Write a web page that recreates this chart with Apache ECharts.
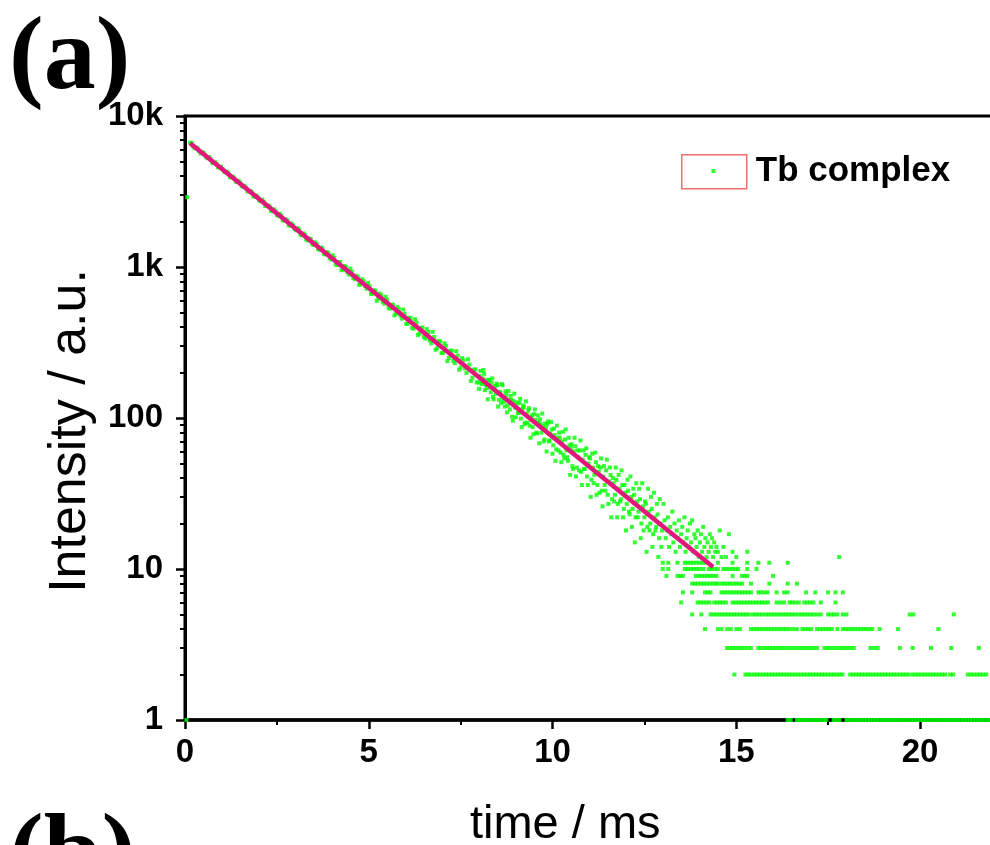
<!DOCTYPE html>
<html>
<head>
<meta charset="utf-8">
<script src="https://cdn.jsdelivr.net/npm/echarts@6/dist/echarts.min.js"></script>
<style>
html,body{margin:0;padding:0;background:#fff;}
#chart{width:990px;height:845px;}
</style>
</head>
<body>
<div id="chart"></div>
<script>
// ---------- data ----------
const xMajorTicks = [0, 5, 10, 15, 20];
const xMinorTicks = [2.5, 7.5, 12.5, 17.5];
const yMajorTicks = [1, 10, 100, 1000, 10000];
const yTickLabels = ['1', '10', '100', '1k', '10k'];
const yMinorTicks = [2,3,4,5,6,7,8,9,20,30,40,50,60,70,80,90,200,300,400,500,600,700,800,900,2000,3000,4000,5000,6000,7000,8000,9000];

// early, well-resolved part of the decay: [time ms, counts]
const decayHead = [
[0.04,1],[0.06,2900],
[0.14,6650],[0.22,6300],[0.30,6190],[0.38,5870],[0.46,5760],[0.54,5540],[0.62,5250],[0.70,5160],[0.78,4890],[0.86,4820],
[0.94,4560],[1.02,4470],[1.10,4230],[1.18,4180],[1.26,3930],[1.34,3870],[1.42,3650],[1.50,3610],[1.58,3400],[1.66,3350],
[1.74,3160],[1.82,3120],[1.90,2930],[1.98,2900],[2.06,2720],[2.14,2710],[2.22,2530],[2.30,2520],[2.38,2340],[2.46,2350],
[2.54,2180],[2.62,2190],[2.70,2030],[2.78,2040],[2.86,1880],[2.94,1890],[3.02,1750],[3.10,1770],[3.18,1620],[3.26,1640],
[3.34,1500],[3.42,1530],[3.50,1400],[3.58,1420],[3.66,1300],[3.74,1330],[3.82,1210],[3.90,1240],[3.98,1120],[4.06,1150],
[4.14,1030],[4.22,1080],[4.30,960],[4.38,1000],[4.46,890],[4.54,930],[4.62,830],[4.70,865],[4.78,770],[4.86,805],
[4.94,718],[5.02,748],[5.10,665],[5.18,697],[5.26,618],[5.34,650],[5.42,571],[5.50,606],[5.58,530],[5.66,563],
[5.74,490],[5.82,526],[5.90,455],[5.98,490],[6.06,421],[6.14,458],[6.22,390],[6.30,428],[6.38,362],[6.46,398],
[6.54,336],[6.62,371],[6.70,312],[6.78,344],[6.86,290],[6.94,322],[7.02,270],[7.10,300],[7.18,250],[7.26,279],
[7.34,231],[7.42,259],[7.50,216],[7.58,241],[7.66,199],[7.74,226],[7.82,185],[7.90,210],[7.98,172]
];

// interleaved channels of the early part: [time ms, counts]
const decayHeadB = [
[0.18,6640],[0.26,6110],[0.34,6120],[0.42,5650],[0.50,5720],[0.58,5320],[0.66,5360],[0.74,4900],[0.82,4930],[0.90,4580],
[0.98,4620],[1.06,4290],[1.14,4280],[1.22,3930],[1.30,3970],[1.38,3680],[1.46,3720],[1.54,3440],[1.62,3450],[1.70,3170],
[1.78,3190],[1.86,2930],[1.94,2980],[2.02,2760],[2.10,2790],[2.18,2540],[2.26,2560],[2.34,2350],[2.42,2410],[2.50,2210],
[2.58,2250],[2.66,2040],[2.74,2070],[2.82,1890],[2.90,1940],[2.98,1780],[3.06,1810],[3.14,1640],[3.22,1670],[3.30,1520],
[3.38,1545],[3.46,1420],[3.54,1460],[3.62,1315],[3.70,1345],[3.78,1220],[3.86,1255],[3.94,1145],
[4.02,1195],[4.10,1041],[4.18,1073],[4.26,952],[4.34,1017],[4.42,923],[4.50,976],[4.58,846],[4.66,875],[4.74,762],
[4.82,830],[4.90,748],[4.98,786],[5.06,663],[5.14,701],[5.22,597],[5.30,668],[5.38,588],[5.46,634],[5.54,536],
[5.62,558],[5.70,478],[5.78,545],[5.86,478],[5.94,523],[6.02,420],[6.10,461],[6.18,395],[6.26,451],[6.34,355],
[6.42,394],[6.50,344],[6.58,388],[6.66,326],[6.74,372],[6.82,283],[6.90,324],[6.98,269],[7.06,312],[7.14,238],
[7.22,279],[7.30,239],[7.38,277],[7.46,209],[7.54,249],[7.62,213],[7.70,245],[7.78,176],[7.86,209],[7.94,172]
];

// noisier middle part of the decay: [time ms, counts]
const decayMid = [
[8.02,190],[8.06,172],[8.10,183],[8.14,196],[8.18,166],[8.22,159],[8.26,178],[8.30,160],[8.34,171],[8.38,138],
[8.42,156],[8.46,145],[8.50,165],[8.54,132],[8.58,147],[8.62,168],[8.66,134],[8.70,119],[8.74,142],[8.78,121],
[8.82,131],[8.86,140],[8.90,102],[8.94,129],[8.98,117],[9.02,121],[9.06,108],[9.10,126],[9.14,99],[9.18,115],
[9.22,118],[9.26,93],[9.30,106],[9.34,112],[9.38,89],[9.42,101],[9.46,87],[9.50,106],[9.54,97],[9.58,79],
[9.62,93],[9.66,98],[9.70,80],[9.74,88],[9.78,72],[9.82,86],[9.86,91],[9.90,70],[9.94,79],[9.98,84],
[10.02,66],[10.06,77],[10.10,62],[10.14,74],[10.18,80],[10.22,59],[10.26,70],[10.30,57],[10.34,72],[10.38,61],
[10.42,52],[10.46,66],[10.50,63],[10.54,48],[10.58,60],[10.62,65],[10.66,47],[10.70,55],[10.74,61],[10.78,44],
[10.82,53],[10.86,46],[10.90,57],[10.94,41],[10.98,50],[11.02,54],[11.06,39],[11.10,47],[11.14,42],[11.18,51],
[11.22,36],[11.26,44],[11.30,47],[11.34,33],[11.38,41],[11.42,36],[11.46,45],[11.50,31],[11.54,38],[11.58,42],
[11.62,29],[11.66,37],[11.70,31],[11.74,39],[11.78,27],[11.82,34],[11.86,29],[11.90,36],[11.94,25],[11.98,32],
[12.02,27],[12.06,33],[12.10,23],[12.14,30],[12.18,25],[12.22,31],[12.26,22],[12.30,28],[12.34,24],[12.38,29],
[12.42,20],[12.46,26],[12.50,22],[12.54,27],[12.58,19],[12.62,24],[12.66,20],[12.70,25],[12.74,17],[12.78,22],
[12.82,19],[12.86,23],[12.90,16],[12.94,20],[12.98,18]
];

// interleaved channels of the middle part: [time ms, counts]
const decayMidB = [
[8.00,156],[8.04,205],[8.08,168],[8.12,208],[8.16,153],[8.20,178],[8.24,133],[8.28,179],[8.32,148],[8.36,183],
[8.40,133],[8.44,163],[8.48,169],[8.52,119],[8.56,149],[8.60,126],[8.64,165],[8.68,128],[8.72,150],[8.76,109],
[8.80,151],[8.84,114],[8.88,132],[8.92,96],[8.96,145],[9.00,101],[9.04,127],[9.08,108],[9.12,134],[9.16,87],
[9.20,121],[9.24,91],[9.28,129],[9.32,93],[9.36,116],[9.40,74],[9.44,104],[9.48,78],[9.52,114],[9.56,80],
[9.60,104],[9.64,68],[9.68,91],[9.72,107],[9.76,70],[9.80,92],[9.84,60],[9.88,95],[9.92,71],[9.96,94],
[10.00,58],[10.04,85],[10.08,52],[10.12,89],[10.16,61],[10.20,74],[10.24,51],[10.28,81],[10.32,54],[10.36,84],
[10.40,55],[10.44,74],[10.48,42],[10.52,67],[10.56,46],[10.60,74],[10.64,41],[10.68,61],[10.72,45],[10.76,71],
[10.80,36],[10.84,61],[10.88,46],[10.92,63],[10.96,36],[11.00,55],[11.04,30],[11.08,58],[11.12,37],[11.16,59],
[11.20,31],[11.24,48],[11.28,32],[11.32,54],[11.36,26],[11.40,48],[11.44,33],[11.48,53],[11.52,27],[11.56,47],
[11.60,22],[11.64,40],[11.68,28],[11.72,47],[11.76,22],[11.80,42],[11.84,28],[11.88,45],[11.92,22],[11.96,36],
[12.00,18],[12.04,39],[12.08,24],[12.12,41],[12.16,19],[12.20,34],[12.24,15],[12.28,37],[12.32,22],[12.36,34],
[12.40,16],[12.44,37],[12.48,18],[12.52,28],[12.56,13],[12.60,34],[12.64,18],[12.68,30],[12.72,14],[12.76,32],
[12.80,18],[12.84,27],[12.88,12],[12.92,29],[12.96,14]
];

// late part with counts above 11: [time ms, counts]
const decayLate = [
[13.02,27],[13.05,21],[13.08,16],[13.11,18],[13.14,22],[13.17,14],[13.20,19],[13.23,17],[13.26,24],[13.29,15],
[13.32,20],[13.35,13],[13.38,18],[13.41,16],[13.44,21],[13.47,14],[13.50,17],[13.53,19],[13.56,15],[13.59,22],
[13.62,13],[13.65,16],[13.68,18],[13.71,14],[13.74,20],[13.77,15],[13.80,21],[13.83,13],[13.86,17],[13.89,16],
[13.92,14],[13.95,18],[13.98,12],[14.01,15],[14.04,17],[14.07,13],[14.10,19],[14.13,14],[14.16,16],[14.19,12],
[14.22,15],[14.25,13],[14.28,17],[14.31,14],[14.34,16],[14.37,12],[14.40,15],[14.43,13],[14.46,14],[14.50,13],
[14.55,18],[14.60,12],[14.65,14],[14.72,12],[14.80,17],[14.90,13],[15.00,12],[15.30,13],[17.80,12]
];

// tail: times (ms) at which the counts are exactly 11, 10, ..., 1
const tailCount11 = [13.0,13.15,13.4,13.6,13.68,13.76,13.84,13.92,14.0,14.08,14.16,14.5,14.9,15.3,15.6,15.9,16.4];
const tailCount10 = [13.0,13.15,13.6,13.68,13.76,13.84,13.92,14.0,14.1,14.25,14.33,14.41,14.5,14.65,14.73,14.81,14.89,14.97,15.05,15.3,15.55];
const tailCount9 = [13.1,13.4,13.48,13.55,13.9,13.98,14.06,14.14,14.22,14.3,14.38,14.46,14.9,15.15,15.23,15.3,16.0];
const tailCount8 = [13.8,13.88,13.96,14.04,14.12,14.2,14.28,14.36,14.44,14.5,14.6,14.68,14.76,14.84,14.92,15.0,15.08,15.16,15.4,15.9,16.4,16.65];
const tailCount7 = [13.55,13.8,14.15,14.23,14.3,14.6,14.68,14.76,14.84,14.92,15.0,15.08,15.16,15.24,15.32,15.4,15.6,15.68,15.76,15.85,16.1,16.3,16.4,16.9,17.15,17.5,17.7,17.9];
const tailCount6 = [13.5,13.95,14.03,14.11,14.19,14.27,14.4,14.48,14.56,14.64,14.72,14.9,14.98,15.06,15.14,15.22,15.3,15.38,15.46,15.54,15.62,15.7,15.78,15.86,16.1,16.2,16.3,16.45,16.53,16.61,16.7,16.85,16.93,17.01,17.1,17.3,17.7];
const tailCount5 = [13.8,14.05,14.3,14.38,14.46,14.54,14.62,14.7,14.78,14.86,14.94,15.02,15.1,15.18,15.26,15.34,15.45,15.53,15.61,15.7,15.8,15.88,15.96,16.04,16.12,16.2,16.28,16.36,16.44,16.52,16.6,16.7,16.78,16.86,16.94,17.02,17.1,17.2,17.3,17.5,17.58,17.66,17.75,17.9,18.0,19.72,19.82,20.92];
const tailCount4 = [14.15,14.5,14.6,14.75,14.85,15.0,15.1,15.4,15.48,15.56,15.64,15.72,15.8,15.88,15.96,16.04,16.12,16.2,16.28,16.36,16.45,16.55,16.65,16.8,16.88,16.96,17.04,17.2,17.28,17.36,17.44,17.52,17.6,17.75,17.9,17.98,18.06,18.14,18.22,18.3,18.38,18.46,18.54,18.62,18.7,18.9,19.4,20.5];
const tailCount3 = [14.75,14.83,14.91,14.99,15.07,15.15,15.23,15.31,15.4,15.6,15.68,15.76,15.84,15.92,16.0,16.08,16.16,16.24,16.32,16.4,16.48,16.56,16.64,16.72,16.8,16.88,16.96,17.04,17.12,17.2,17.4,17.48,17.56,17.64,17.72,17.8,17.88,17.96,18.04,18.12,18.2,18.65,18.75,18.85,19.45,19.8,20.3,20.85,21.6];
const tailCount2 = [14.95,15.25,15.33,15.41,15.49,15.57,15.65,15.73,15.81,15.89,15.97,16.05,16.13,16.21,16.29,16.37,16.45,16.53,16.61,16.69,16.77,16.85,16.93,17.01,17.09,17.17,17.25,17.33,17.41,17.49,17.57,17.65,17.73,17.81,17.89,18.1,18.18,18.26,18.34,18.42,18.5,18.58,18.65,18.73,18.81,18.89,18.97,19.05,19.13,19.21,19.29,19.37,19.45,19.53,19.61,19.69,19.8,19.88,19.96,20.04,20.12,20.2,20.28,20.36,20.44,20.52,20.6,20.68,20.82,20.9,21.3,21.38,21.46,21.55,21.63,21.71,21.8];
const tailCount1 = [16.4,16.48,16.65,16.73,16.81,16.89,16.97,17.05,17.13,17.21,17.29,17.37,17.45,17.65,17.73,17.81,18.0,18.08,18.16,18.24,18.32,18.4,18.48,18.56,18.64,18.72,18.8,18.88,18.96,19.04,19.12,19.2,19.28,19.36,19.44,19.52,19.6,19.68,19.76,19.84,19.92,20.0,20.08,20.16,20.24,20.32,20.4,20.48,20.56,20.64,20.72,20.8,20.88,20.96,21.04,21.12,21.2,21.28,21.36,21.44,21.52,21.6,21.68,21.76,21.84,21.92];

// fitted exponential decay (straight on the log axis)
const fitTimes = [0.14, 2, 4, 6, 8, 10, 12, 14.37];
const fitValues = [6600, 2838, 1143, 461, 186, 75, 30.2, 10.3];

// ---------- build series data ----------
const tailRows = [
  [11, tailCount11], [10, tailCount10], [9, tailCount9], [8, tailCount8], [7, tailCount7], [6, tailCount6],
  [5, tailCount5], [4, tailCount4], [3, tailCount3], [2, tailCount2], [1, tailCount1]
];
let scatterData = decayHead.concat(decayHeadB, decayMid, decayMidB, decayLate);
tailRows.forEach(function (r) {
  r[1].forEach(function (t) { scatterData.push([t, r[0]]); });
});
const fitData = fitTimes.map(function (t, i) { return [t, fitValues[i]]; });

const GREEN = '#00ff00';
const FIT = '#e2177c';
const SANS = 'Liberation Sans, Arial, sans-serif';
const SERIF = 'Liberation Serif, Times New Roman, serif';

const chart = echarts.init(document.getElementById('chart'), null, {renderer: 'canvas'});
chart.setOption({
  animation: false,
  backgroundColor: '#ffffff',
  grid: {
    left: 185, top: 116, width: 808.5, height: 604,
    outerBoundsMode: 'none', containLabel: false,
    show: true, borderColor: '#000', borderWidth: 3, backgroundColor: 'transparent'
  },
  title: [
    {text: '(a)', left: 9, top: 9, padding: 0,
     textStyle: {fontFamily: SERIF, fontWeight: 'bold', fontSize: 104, color: '#000'}},
    {text: '(b)', left: 9, top: 806, padding: 0,
     textStyle: {fontFamily: SERIF, fontWeight: 'bold', fontSize: 104, color: '#000'}}
  ],
  legend: [
    {
      data: ['Tb complex'], left: 681, top: 154, orient: 'vertical', padding: 0,
      icon: 'rect', itemWidth: 65, itemHeight: 34,
      itemStyle: {color: 'rgba(0,0,0,0)', borderColor: '#ef4848', borderWidth: 1.5},
      textStyle: {fontFamily: SANS, fontWeight: 'bold', fontSize: 35, color: '#000', padding: [0, 0, 0, 4]}
    },
    {
      data: ['Tb complex'], left: 711.5, top: 169, orient: 'vertical', padding: 0,
      icon: 'rect', itemWidth: 4, itemHeight: 4,
      formatter: function () { return ''; },
      textStyle: {fontSize: 1}
    }
  ],
  xAxis: [
    {
      type: 'value', min: 0, max: 22, gridIndex: 0, position: 'bottom',
      name: 'time / ms', nameLocation: 'middle', nameGap: 82,
      nameTextStyle: {fontFamily: SANS, fontSize: 47, color: '#000', padding: [0, 48, 0, 0]},
      axisLine: {show: true, onZero: false, lineStyle: {color: '#000', width: 3.5}},
      axisTick: {show: true, inside: false, length: 9, lineStyle: {color: '#000', width: 2.5}, customValues: xMajorTicks},
      axisLabel: {show: true, margin: 16, customValues: xMajorTicks,
        fontFamily: SANS, fontWeight: 'bold', fontSize: 33, color: '#000'},
      splitLine: {show: false}
    },
    {
      type: 'value', min: 0, max: 22, gridIndex: 0, position: 'bottom',
      axisLine: {show: false, onZero: false},
      axisTick: {show: true, inside: false, length: 5, lineStyle: {color: '#000', width: 2}, customValues: xMinorTicks},
      axisLabel: {show: false},
      splitLine: {show: false}
    }
  ],
  yAxis: [
    {
      type: 'log', logBase: 10, min: 1, max: 10000, gridIndex: 0, position: 'left',
      name: 'Intensity / a.u.', nameLocation: 'middle', nameGap: 76, nameRotate: 90,
      nameTextStyle: {fontFamily: SANS, fontSize: 52, color: '#000', padding: [0, 26, 0, 0]},
      axisLine: {show: true, onZero: false, lineStyle: {color: '#000', width: 3}},
      axisTick: {show: true, inside: false, length: 9, lineStyle: {color: '#000', width: 2.5}, customValues: yMajorTicks},
      axisLabel: {show: true, margin: 22, customValues: yMajorTicks,
        fontFamily: SANS, fontWeight: 'bold', fontSize: 33, color: '#000',
        formatter: function (v) {
          const i = yMajorTicks.indexOf(Math.round(v));
          return i >= 0 ? yTickLabels[i] : '';
        }},
      splitLine: {show: false}
    },
    {
      type: 'log', logBase: 10, min: 1, max: 10000, gridIndex: 0, position: 'left',
      axisLine: {show: false, onZero: false},
      axisTick: {show: true, inside: false, length: 5, lineStyle: {color: '#000', width: 2}, customValues: yMinorTicks},
      axisLabel: {show: false},
      splitLine: {show: false}
    }
  ],
  series: [
    {
      name: 'Tb complex', type: 'scatter', xAxisIndex: 0, yAxisIndex: 0,
      data: scatterData, symbol: 'rect', symbolSize: 4, clip: false,
      itemStyle: {color: GREEN}, z: 3
    },
    {
      name: 'fit', type: 'line', xAxisIndex: 0, yAxisIndex: 0,
      data: fitData, showSymbol: false, symbol: 'none',
      lineStyle: {color: FIT, width: 4.5}, z: 4
    }
  ]
});
</script>
</body>
</html>
